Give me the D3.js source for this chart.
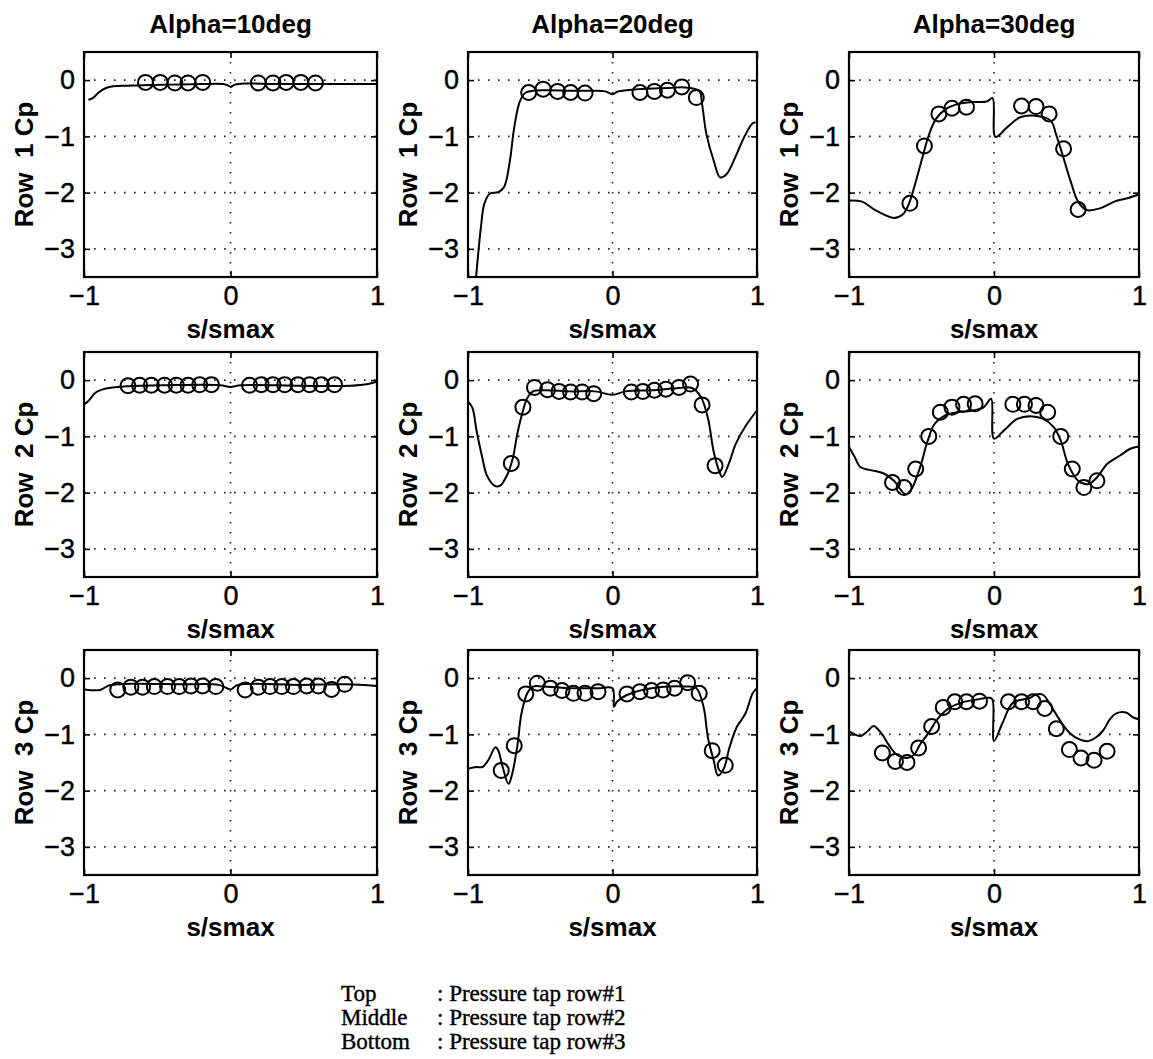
<!DOCTYPE html>
<html><head><meta charset="utf-8">
<script src="https://cdn.jsdelivr.net/npm/d3@7"></script>
<style>body{margin:0;background:#fff} svg{display:block}</style>
</head><body><svg id="c" width="1153" height="1059"></svg>
<script>
// ---- data ----
const colTitles = ["Alpha=10deg", "Alpha=20deg", "Alpha=30deg"];
const rowLabels = ["Row  1 Cp", "Row  2 Cp", "Row  3 Cp"];
const xTicks = [-1, 0, 1];
const yTicks = [0, -1, -2, -3];
const legendKeys = ["Top", "Middle", "Bottom"];
const legendTexts = [": Pressure tap row#1", ": Pressure tap row#2", ": Pressure tap row#3"];

// tap positions (s/smax) per pressure tap row
const sRow1 = [-0.58,-0.48,-0.38,-0.29,-0.19,0.19,0.29,0.38,0.48,0.58];
const sRow2 = [-0.70,-0.62,-0.54,-0.45,-0.37,-0.29,-0.21,-0.13,0.13,0.21,0.29,0.37,0.46,0.54,0.62,0.71];
const sRow3 = [-0.77,-0.68,-0.60,-0.52,-0.43,-0.35,-0.27,-0.19,-0.10,0.10,0.19,0.27,0.35,0.43,0.52,0.60,0.69,0.78];

// measured Cp (circles)
const a10r1 = [-0.04,-0.04,-0.05,-0.05,-0.04,-0.05,-0.05,-0.04,-0.04,-0.05];
const a20r1 = [-0.22,-0.16,-0.20,-0.22,-0.23,-0.22,-0.20,-0.18,-0.12,-0.31];
const a30r1 = [-2.19,-1.17,-0.60,-0.50,-0.48,-0.46,-0.47,-0.60,-1.22,-2.30];
const a10r2 = [-0.10,-0.09,-0.09,-0.09,-0.09,-0.09,-0.08,-0.08,-0.09,-0.08,-0.08,-0.08,-0.08,-0.08,-0.08,-0.08];
const a20r2 = [-1.48,-0.48,-0.13,-0.17,-0.20,-0.21,-0.21,-0.24,-0.21,-0.20,-0.18,-0.16,-0.13,-0.07,-0.44,-1.52];
const a30r2 = [-1.82,-1.91,-1.58,-1.00,-0.57,-0.48,-0.43,-0.42,-0.43,-0.43,-0.45,-0.57,-1.00,-1.58,-1.91,-1.79];
const a10r3 = [-0.21,-0.16,-0.16,-0.15,-0.15,-0.15,-0.14,-0.14,-0.15,-0.21,-0.16,-0.15,-0.15,-0.15,-0.14,-0.14,-0.20,-0.11];
const a20r3 = [-1.64,-1.20,-0.28,-0.09,-0.18,-0.22,-0.27,-0.27,-0.24,-0.28,-0.24,-0.22,-0.21,-0.18,-0.08,-0.27,-1.29,-1.55];
const a30r3 = [-1.33,-1.48,-1.50,-1.24,-0.86,-0.52,-0.42,-0.42,-0.41,-0.42,-0.42,-0.42,-0.54,-0.90,-1.27,-1.42,-1.46,-1.30];

// computed Cp (lines) as [s, Cp]
const a10r1Line = [[-0.97,-0.35],[-0.94,-0.32],[-0.90,-0.22],[-0.85,-0.14],[-0.80,-0.11],[-0.70,-0.10],[-0.60,-0.09],[-0.40,-0.08],[-0.20,-0.07],[-0.05,-0.07],[-0.02,-0.09],[0.00,-0.12],[0.03,-0.08],[0.10,-0.06],[0.30,-0.07],[0.50,-0.07],[0.70,-0.07],[1.00,-0.07]];
const a20r1Line = [[-0.944,-3.5],[-0.91,-2.6],[-0.887,-2.2],[-0.85,-2.02],[-0.79,-1.99],[-0.75,-1.9],[-0.71,-1.43],[-0.68,-0.84],[-0.64,-0.37],[-0.60,-0.22],[-0.49,-0.18],[-0.28,-0.19],[-0.15,-0.19],[-0.05,-0.20],[0.00,-0.25],[0.04,-0.20],[0.18,-0.16],[0.39,-0.14],[0.50,-0.13],[0.60,-0.19],[0.62,-0.43],[0.65,-0.96],[0.70,-1.43],[0.745,-1.73],[0.79,-1.67],[0.85,-1.37],[0.91,-1.02],[0.965,-0.78],[0.99,-0.75]];
const a30r1Line = [[-1.00,-2.14],[-0.91,-2.16],[-0.82,-2.31],[-0.69,-2.45],[-0.63,-2.39],[-0.59,-2.22],[-0.54,-1.81],[-0.49,-1.34],[-0.45,-0.98],[-0.40,-0.69],[-0.33,-0.51],[-0.24,-0.42],[-0.15,-0.39],[-0.05,-0.38],[-0.01,-0.32],[0.01,-1.01],[0.09,-0.84],[0.18,-0.66],[0.27,-0.63],[0.39,-0.72],[0.43,-0.98],[0.48,-1.39],[0.53,-1.81],[0.58,-2.16],[0.64,-2.31],[0.73,-2.28],[0.83,-2.16],[0.92,-2.10],[1.00,-2.03]];
const a10r2Line = [[-1.00,-0.43],[-0.97,-0.37],[-0.92,-0.22],[-0.85,-0.15],[-0.71,-0.11],[-0.44,-0.09],[-0.07,-0.09],[0.00,-0.12],[0.07,-0.09],[0.48,-0.10],[0.82,-0.10],[0.94,-0.07],[1.00,-0.03]];
const a20r2Line = [[-1.00,-0.38],[-0.97,-0.49],[-0.94,-0.91],[-0.90,-1.39],[-0.87,-1.69],[-0.82,-1.87],[-0.78,-1.88],[-0.73,-1.69],[-0.69,-1.39],[-0.66,-0.97],[-0.62,-0.55],[-0.59,-0.32],[-0.55,-0.20],[-0.47,-0.18],[-0.29,-0.20],[-0.12,-0.20],[0.00,-0.26],[0.09,-0.20],[0.27,-0.18],[0.46,-0.14],[0.55,-0.14],[0.61,-0.29],[0.66,-0.67],[0.70,-1.27],[0.74,-1.63],[0.76,-1.72],[0.81,-1.45],[0.85,-1.15],[0.92,-0.82],[1.00,-0.54]];
const a30r2Line = [[-1.00,-1.19],[-0.96,-1.37],[-0.92,-1.55],[-0.85,-1.60],[-0.76,-1.66],[-0.69,-1.79],[-0.61,-2.03],[-0.57,-1.94],[-0.51,-1.55],[-0.46,-1.10],[-0.41,-0.78],[-0.34,-0.63],[-0.25,-0.57],[-0.14,-0.54],[-0.07,-0.48],[-0.02,-0.33],[0.00,-1.04],[0.07,-0.89],[0.16,-0.69],[0.25,-0.64],[0.34,-0.69],[0.41,-0.83],[0.46,-1.07],[0.51,-1.49],[0.58,-1.79],[0.65,-1.85],[0.71,-1.73],[0.78,-1.49],[0.87,-1.34],[0.94,-1.22],[1.00,-1.18]];
const a10r3Line = [[-1.00,-0.20],[-0.89,-0.21],[-0.83,-0.13],[-0.68,-0.10],[-0.34,-0.11],[-0.08,-0.12],[0.00,-0.20],[0.05,-0.12],[0.47,-0.12],[0.79,-0.11],[1.00,-0.14]];
const a20r3Line = [[-1.00,-1.61],[-0.94,-1.58],[-0.90,-1.58],[-0.86,-1.46],[-0.81,-1.23],[-0.79,-1.29],[-0.76,-1.58],[-0.72,-1.88],[-0.70,-1.76],[-0.66,-1.23],[-0.63,-0.63],[-0.59,-0.27],[-0.55,-0.15],[-0.48,-0.15],[-0.29,-0.18],[-0.10,-0.18],[0.00,-0.18],[0.01,-0.51],[0.03,-0.42],[0.10,-0.30],[0.27,-0.18],[0.50,-0.15],[0.58,-0.18],[0.63,-0.51],[0.66,-1.05],[0.70,-1.46],[0.73,-1.73],[0.77,-1.61],[0.81,-1.23],[0.86,-0.87],[0.92,-0.63],[0.97,-0.27],[1.00,-0.18]];
const a30r3Line = [[-1.00,-0.94],[-0.96,-1.00],[-0.92,-1.03],[-0.87,-0.94],[-0.83,-0.85],[-0.78,-0.97],[-0.72,-1.21],[-0.67,-1.36],[-0.60,-1.42],[-0.55,-1.36],[-0.51,-1.18],[-0.45,-0.97],[-0.39,-0.73],[-0.32,-0.55],[-0.23,-0.44],[-0.12,-0.38],[-0.03,-0.35],[-0.01,-0.38],[0.00,-1.12],[0.06,-0.79],[0.13,-0.44],[0.25,-0.35],[0.29,-0.29],[0.34,-0.30],[0.38,-0.44],[0.45,-0.73],[0.52,-0.97],[0.59,-1.09],[0.65,-1.12],[0.70,-1.06],[0.75,-0.94],[0.80,-0.73],[0.84,-0.63],[0.91,-0.61],[0.96,-0.70],[1.00,-0.73]];

const panels = [
  {row:0,col:0,s:sRow1,cp:a10r1,line:a10r1Line},
  {row:0,col:1,s:sRow1,cp:a20r1,line:a20r1Line},
  {row:0,col:2,s:sRow1,cp:a30r1,line:a30r1Line},
  {row:1,col:0,s:sRow2,cp:a10r2,line:a10r2Line},
  {row:1,col:1,s:sRow2,cp:a20r2,line:a20r2Line},
  {row:1,col:2,s:sRow2,cp:a30r2,line:a30r2Line},
  {row:2,col:0,s:sRow3,cp:a10r3,line:a10r3Line},
  {row:2,col:1,s:sRow3,cp:a20r3,line:a20r3Line},
  {row:2,col:2,s:sRow3,cp:a30r3,line:a30r3Line}
];

// ---- layout ----
const colL = [84, 468, 849], colR = [377, 757, 1139];
const rowT = [52, 352, 650], rowB = [277, 577, 875];
const SANS = "'Liberation Sans', Arial, Helvetica, sans-serif";
const fmt = d => d < 0 ? "\u2212" + (-d) : String(d);

const svg = d3.select("#c");
svg.append("rect").attr("width",1153).attr("height",1059).attr("fill","#fff");

panels.forEach((p, i) => {
  const L = colL[p.col], R = colR[p.col], T = rowT[p.row], B = rowB[p.row];
  const x = d3.scaleLinear().domain([-1, 1]).range([L, R]);
  const y = d3.scaleLinear().domain([-3.5, 0.5]).range([B, T]);
  const g = svg.append("g");

  g.append("clipPath").attr("id", "clip" + i)
    .append("rect").attr("x", L).attr("y", T).attr("width", R - L).attr("height", B - T);

  // dotted grid
  g.selectAll(".gy").data(yTicks).join("line")
    .attr("x1", L).attr("x2", R).attr("y1", d => y(d)).attr("y2", d => y(d))
    .attr("stroke", "#222").attr("stroke-width", 1.6).attr("stroke-dasharray", "1.6,8.4");
  g.selectAll(".gx").data(xTicks.filter(d => d > -1 && d < 1)).join("line")
    .attr("y1", T).attr("y2", B).attr("x1", d => x(d)).attr("x2", d => x(d))
    .attr("stroke", "#222").attr("stroke-width", 1.6).attr("stroke-dasharray", "1.6,8.4");

  // axes with inward ticks
  const styleAxis = sel => {
    sel.select(".domain").remove();
    sel.selectAll(".tick line").attr("stroke", "#000").attr("stroke-width", 1.6);
    sel.selectAll("text").attr("fill", "#000").attr("stroke", "#000").attr("stroke-width", 0.4);
    sel.attr("font-family", SANS).attr("font-size", 27);
  };
  g.append("g").attr("transform", `translate(0,${B})`)
    .call(d3.axisBottom(x).tickValues(xTicks).tickSize(-6).tickPadding(9).tickFormat(fmt)).call(styleAxis);
  g.append("g").attr("transform", `translate(0,${T})`)
    .call(d3.axisTop(x).tickValues(xTicks).tickSize(-6).tickFormat("")).call(styleAxis);
  g.append("g").attr("transform", `translate(${L},0)`)
    .call(d3.axisLeft(y).tickValues(yTicks).tickSize(-6).tickPadding(9).tickFormat(fmt)).call(styleAxis);
  g.append("g").attr("transform", `translate(${R},0)`)
    .call(d3.axisRight(y).tickValues(yTicks).tickSize(-6).tickFormat("")).call(styleAxis);

  // computed line
  const line = d3.line().x(d => x(d[0])).y(d => y(d[1])).curve(d3.curveCatmullRom.alpha(0.5));
  g.append("path").datum(p.line).attr("d", line).attr("fill", "none")
    .attr("stroke", "#000").attr("stroke-width", 2).attr("stroke-linejoin", "round")
    .attr("clip-path", `url(#clip${i})`);

  // measured circles
  g.selectAll(".pt").data(p.s.map((s, k) => [s, p.cp[k]])).join("circle")
    .attr("cx", d => x(d[0])).attr("cy", d => y(d[1])).attr("r", 7.5)
    .attr("fill", "none").attr("stroke", "#000").attr("stroke-width", 2);

  // frame
  g.append("rect").attr("x", L).attr("y", T).attr("width", R - L).attr("height", B - T)
    .attr("fill", "none").attr("stroke", "#000").attr("stroke-width", 2.2);

  // x label
  g.append("text").attr("x", (L + R) / 2).attr("y", B + 61).attr("text-anchor", "middle")
    .attr("font-family", SANS).attr("font-weight", "bold").attr("font-size", 26).text("s/smax");

  // y label
  g.append("text").attr("transform", `translate(${L - 51},${(T + B) / 2}) rotate(-90)`)
    .attr("text-anchor", "middle").style("white-space", "pre")
    .attr("font-family", SANS).attr("font-weight", "bold").attr("font-size", 26).text(rowLabels[p.row]);

  // column title
  if (p.row === 0) {
    g.append("text").attr("x", (L + R) / 2).attr("y", T - 19).attr("text-anchor", "middle")
      .attr("font-family", SANS).attr("font-weight", "bold").attr("font-size", 26).text(colTitles[p.col]);
  }
});

// legend text
const SERIF = "'Liberation Serif', 'Times New Roman', serif";
const legBase = [1001, 1025, 1049];
legendKeys.forEach((k, i) => {
  svg.append("text").attr("x", 341).attr("y", legBase[i]).attr("font-family", SERIF)
    .attr("font-size", 23).attr("stroke", "#000").attr("stroke-width", 0.4).text(k);
  svg.append("text").attr("x", 437).attr("y", legBase[i]).attr("font-family", SERIF)
    .attr("font-size", 23).attr("stroke", "#000").attr("stroke-width", 0.4).text(legendTexts[i]);
});
</script>
</body></html>
